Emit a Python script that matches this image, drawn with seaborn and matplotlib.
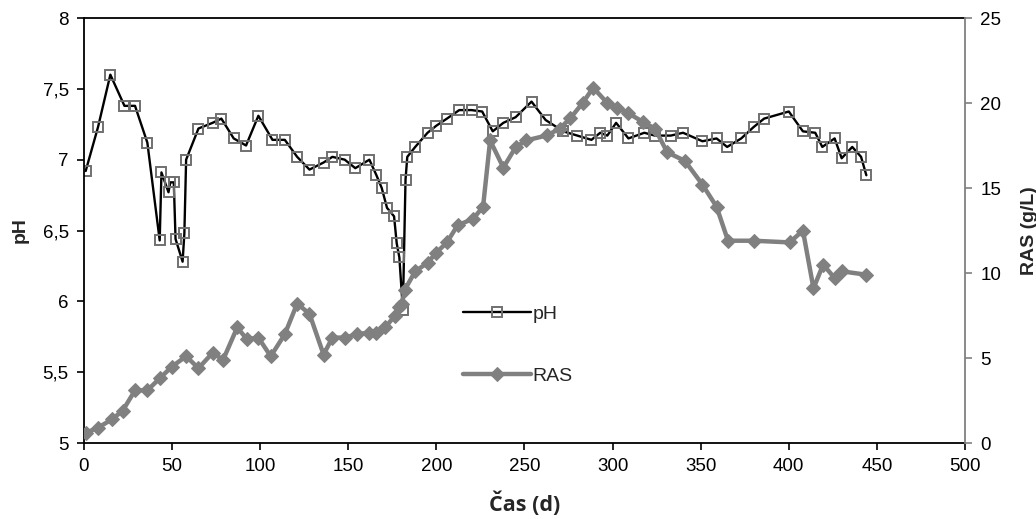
import matplotlib
matplotlib.use("Agg")
import matplotlib.pyplot as plt
import pandas as pd
import seaborn as sns
from matplotlib.ticker import FuncFormatter, MultipleLocator

# pH series (days, value)
ph_days = [1, 8, 15, 23, 29, 36, 43, 44, 48, 49,
           51, 52, 56, 57, 58, 65, 73, 78, 85, 92,
           99, 107, 114, 121, 128, 136, 141, 148, 154, 162,
           166, 169, 172, 176, 177.5, 179, 181, 182.5, 183.5, 188,
           195, 200, 206, 213, 220, 226, 232, 238, 245, 254,
           262, 272, 280, 288, 293, 297, 302, 309, 318, 324,
           333, 340, 351, 359, 365, 373, 380, 386, 400, 408,
           415, 419, 426, 430, 436, 441, 444]
ph_vals = [6.92, 7.23, 7.60, 7.38, 7.38, 7.12, 6.43, 6.91, 6.77, 6.84,
           6.84, 6.44, 6.28, 6.48, 7.00, 7.22, 7.26, 7.29, 7.15, 7.10,
           7.31, 7.14, 7.14, 7.02, 6.93, 6.98, 7.02, 7.00, 6.94, 7.00,
           6.89, 6.80, 6.66, 6.60, 6.41, 6.31, 5.94, 6.86, 7.02, 7.09,
           7.19, 7.24, 7.29, 7.35, 7.35, 7.34, 7.20, 7.26, 7.30, 7.41,
           7.28, 7.20, 7.17, 7.14, 7.19, 7.17, 7.26, 7.15, 7.19, 7.17,
           7.17, 7.19, 7.13, 7.15, 7.09, 7.15, 7.23, 7.29, 7.34, 7.20,
           7.19, 7.09, 7.15, 7.01, 7.09, 7.02, 6.89]

# RAS series (days, g/L)
ras_days = [1, 8, 16, 22, 29, 36, 43, 50, 58, 65,
            73, 79, 87, 92.5, 99, 106, 114, 121, 128, 136,
            141, 148, 155, 162, 166, 171, 176.5, 179, 180.5, 182,
            188, 195, 200, 206, 212, 221, 226.5, 230.5, 238, 245,
            251, 263, 270, 276, 283, 289, 297, 302.5, 309, 317,
            324, 331, 341, 351, 359, 365.5, 380, 400.5, 408, 414,
            419.5, 426, 430, 444]
ras_vals = [0.6, 0.9, 1.4, 1.9, 3.1, 3.1, 3.8, 4.5, 5.1, 4.4,
            5.3, 4.9, 6.8, 6.1, 6.2, 5.1, 6.4, 8.2, 7.6, 5.2,
            6.2, 6.2, 6.4, 6.5, 6.5, 6.8, 7.5, 8.0, 8.2, 9.0,
            10.1, 10.6, 11.2, 11.8, 12.8, 13.2, 13.9, 17.8, 16.2, 17.4,
            17.8, 18.1, 18.5, 19.1, 20.0, 20.9, 20.0, 19.7, 19.4, 18.9,
            18.5, 17.1, 16.6, 15.2, 13.9, 11.9, 11.9, 11.8, 12.5, 9.1,
            10.5, 9.7, 10.1, 9.9]

ph_df = pd.DataFrame({"day": ph_days, "ph": ph_vals})
ras_df = pd.DataFrame({"day": ras_days, "ras": ras_vals})

sns.set_style("white")
plt.rcParams["font.family"] = ["Liberation Sans", "DejaVu Sans"]

fig, ax = plt.subplots(figsize=(10.36, 5.19), dpi=100)
fig.subplots_adjust(left=0.081, right=0.9315, top=0.9653, bottom=0.1464)
ax2 = ax.twinx()

sns.lineplot(data=ph_df, x="day", y="ph", ax=ax, color="black", lw=1.7,
             marker="s", markersize=7.5, markerfacecolor="none",
             markeredgecolor="#707070", markeredgewidth=1.4,
             sort=False, label="pH", legend=False)
sns.lineplot(data=ras_df, x="day", y="ras", ax=ax2, color="#808080", lw=3.2,
             marker="D", markersize=7, markerfacecolor="#808080",
             markeredgecolor="#808080", sort=False, label="RAS", legend=False)

ax.set_xlim(0, 500)
ax.set_ylim(5, 8)
ax2.set_ylim(0, 25)
ax.xaxis.set_major_locator(MultipleLocator(50))
ax.yaxis.set_major_locator(MultipleLocator(0.5))
ax2.yaxis.set_major_locator(MultipleLocator(5))
ax.yaxis.set_major_formatter(FuncFormatter(lambda v, p: f"{v:g}".replace(".", ",")))

for a in (ax, ax2):
    a.tick_params(labelsize=13.5, length=5, width=1.2, direction="out",
                  colors="black", pad=6)
ax.tick_params(axis="both", left=True, bottom=True)
ax2.tick_params(axis="y", right=True, color="#808080")

for side in ("left", "bottom", "top"):
    ax2.spines[side].set_visible(False)
    ax.spines[side].set_color("black")
    ax.spines[side].set_linewidth(1.3)
ax.spines["right"].set_visible(False)
ax2.spines["right"].set_color("#808080")
ax2.spines["right"].set_linewidth(1.3)

ax.set_xlabel("Čas (d)", fontsize=15.5, fontweight="bold",
              family=["Open Sans", "DejaVu Sans"], labelpad=12)
ax.set_ylabel("pH", fontsize=14, fontweight="bold", labelpad=10)
ax2.set_ylabel("RAS (g/L)", fontsize=14, fontweight="bold", labelpad=14)

h1, l1 = ax.get_legend_handles_labels()
h2, l2 = ax2.get_legend_handles_labels()
ax2.legend(h1 + h2, l1 + l2, loc="upper left", bbox_to_anchor=(0.43, 0.325),
           frameon=False, fontsize=14, labelspacing=2.3, handlelength=3.5,
           handletextpad=0.1, borderpad=0, borderaxespad=0)

fig.savefig("out.png", dpi=100)
